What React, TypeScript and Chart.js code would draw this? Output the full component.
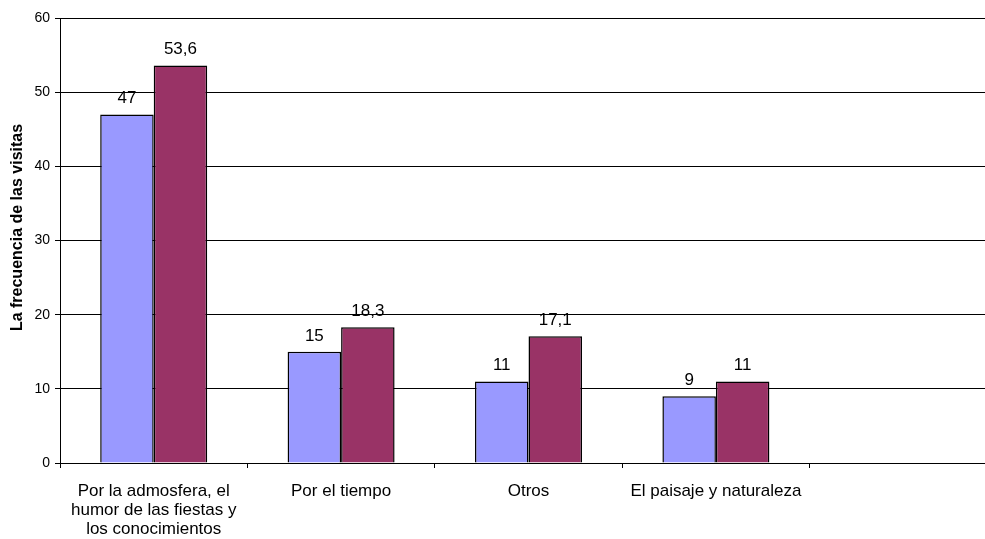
import React, { useEffect, useRef } from "react";
import { Chart, registerables } from "chart.js";

Chart.register(...registerables);

const categories: (string | string[])[] = [
  ["Por la admosfera, el", "humor de las fiestas y", "los conocimientos"],
  "Por el tiempo",
  "Otros",
  "El paisaje y naturaleza",
  "",
];
const seriesA: (number | null)[] = [47, 15, 11, 9, null];
const seriesB: (number | null)[] = [53.6, 18.3, 17.1, 11, null];
const yTitle = "La frecuencia de las visitas";

const FONT = "'Liberation Sans', Arial, sans-serif";

const valueLabels = {
  id: "valueLabels",
  afterDatasetsDraw(chart: any) {
    const ctx = chart.ctx;
    ctx.save();
    ctx.font = `17px ${FONT}`;
    ctx.fillStyle = "#000";
    ctx.textAlign = "center";
    ctx.textBaseline = "alphabetic";
    chart.data.datasets.forEach((ds: any, di: number) => {
      const meta = chart.getDatasetMeta(di);
      meta.data.forEach((el: any, i: number) => {
        const v = ds.data[i];
        if (v === null || v === undefined) return;
        ctx.fillText(String(v).replace(".", ","), el.x, el.y - 11);
      });
    });
    ctx.restore();
  },
};

const axisTitle = {
  id: "axisTitle",
  afterDraw(chart: any) {
    const ctx = chart.ctx;
    const area = chart.chartArea;
    ctx.save();
    ctx.font = `bold 16px ${FONT}`;
    ctx.fillStyle = "#000";
    ctx.textAlign = "center";
    ctx.textBaseline = "middle";
    ctx.translate(18, (area.top + area.bottom) / 2 - 13);
    ctx.rotate(-Math.PI / 2);
    ctx.fillText(yTitle, 0, 0);
    ctx.restore();
  },
};

export default function App() {
  const ref = useRef<HTMLCanvasElement>(null);
  useEffect(() => {
    if (!ref.current) return;
    Chart.defaults.color = "#000";
    const chart = new Chart(ref.current, {
      type: "bar",
      data: {
        labels: categories,
        datasets: [
          {
            data: seriesA,
            backgroundColor: "#9999FF",
            borderColor: "#000",
            borderWidth: 1.5,
            categoryPercentage: 0.571,
            barPercentage: 1,
          },
          {
            data: seriesB,
            backgroundColor: "#993366",
            borderColor: "#000",
            borderWidth: 1.5,
            categoryPercentage: 0.571,
            barPercentage: 1,
          },
        ],
      },
      options: {
        animation: false,
        responsive: false,
        devicePixelRatio: 1,
        layout: { padding: { left: 0, top: 18, right: 3, bottom: 0 } },
        plugins: { legend: { display: false }, tooltip: { enabled: false } },
        scales: {
          x: {
            grid: {
              display: true,
              drawOnChartArea: false,
              drawTicks: true,
              tickLength: 5,
              color: "#000",
              offset: true,
            },
            border: { color: "#000", width: 1 },
            ticks: {
              autoSkip: false,
              maxRotation: 0,
              padding: 14,
              color: "#000",
              font: { family: FONT, size: 17, lineHeight: 1.12 },
            },
            afterFit: (scale: any) => {
              scale.height = 76;
            },
          },
          y: {
            min: 0,
            max: 60,
            ticks: {
              stepSize: 10,
              padding: 5,
              color: "#000",
              font: { family: FONT, size: 14 },
            },
            grid: { color: "#000", lineWidth: 1, tickLength: 5 },
            border: { color: "#000", width: 1 },
            title: { display: false },
            afterFit: (scale: any) => {
              scale.width = 60;
            },
          },
        },
      },
      plugins: [valueLabels, axisTitle],
    });
    return () => chart.destroy();
  }, []);
  return (
    <div
      style={{
        position: "fixed",
        left: 0,
        top: 0,
        width: 985,
        height: 539,
        overflow: "hidden",
        background: "#fff",
      }}
    >
      <canvas ref={ref} width={1000} height={539} style={{ width: 1000, height: 539 }} />
    </div>
  );
}
